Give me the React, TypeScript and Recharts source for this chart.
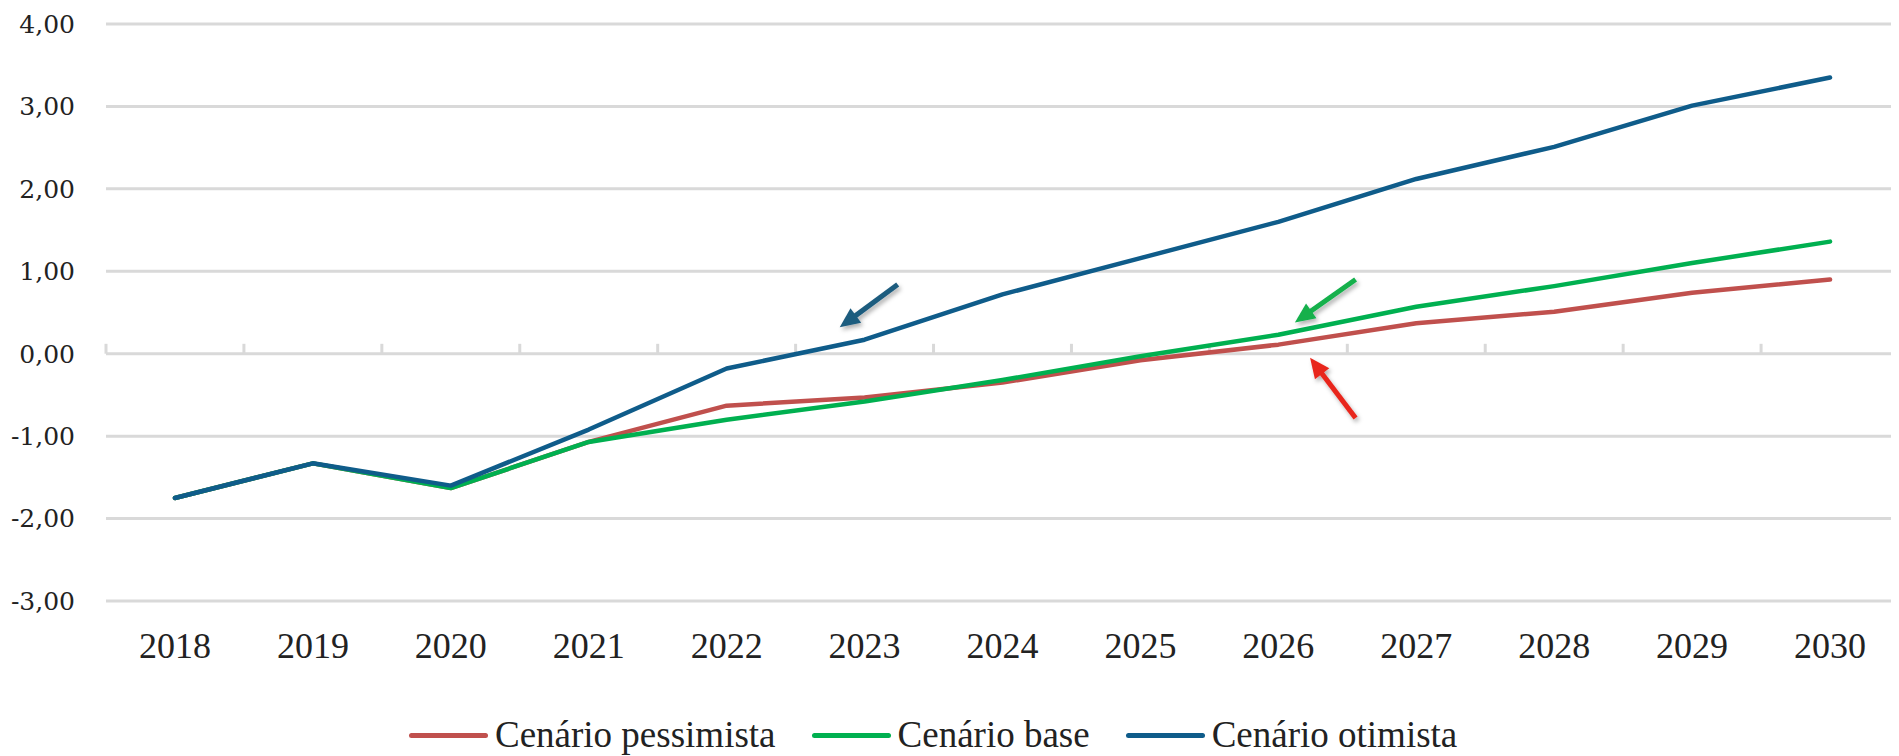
import {
  CartesianGrid,
  Legend,
  Line,
  LineChart,
  ReferenceLine,
  XAxis,
  YAxis,
} from "recharts";

const years = [2018, 2019, 2020, 2021, 2022, 2023, 2024, 2025, 2026, 2027, 2028, 2029, 2030];
const pessimista = [-1.75, -1.33, -1.63, -1.07, -0.63, -0.53, -0.35, -0.08, 0.11, 0.37, 0.51, 0.74, 0.9];
const base = [-1.75, -1.33, -1.63, -1.07, -0.8, -0.58, -0.32, -0.03, 0.23, 0.57, 0.82, 1.1, 1.36];
const otimista = [-1.75, -1.33, -1.6, -0.92, -0.18, 0.17, 0.72, 1.16, 1.6, 2.12, 2.51, 3.01, 3.35];
const yTicks = [-3, -2, -1, 0, 1, 2, 3, 4];

const series = [
  { key: "pessimista", name: "Cenário pessimista", color: "#C0504D" },
  { key: "base", name: "Cenário base", color: "#00B050" },
  { key: "otimista", name: "Cenário otimista", color: "#0F5C8A" },
];

// annotation arrows, tail -> tip, in data units
const arrows = [
  { from: [2023.24, 0.84], to: [2022.82, 0.32], color: "#1F5C7E" },
  { from: [2026.56, 0.9], to: [2026.12, 0.38], color: "#12B04C" },
  { from: [2026.56, -0.78], to: [2026.23, -0.05], color: "#E8261C" },
];

const data = years.map((year, i) => ({
  year,
  pessimista: pessimista[i],
  base: base[i],
  otimista: otimista[i],
}));

const boundaries = years.map((y) => y - 0.5);

const fmt = (v: number) => v.toFixed(2).replace(".", ",");

const ArrowShape = (props: any) => {
  const { x1, y1, x2, y2, color } = props;
  const dx = x2 - x1;
  const dy = y2 - y1;
  const len = Math.sqrt(dx * dx + dy * dy) || 1;
  const ux = dx / len;
  const uy = dy / len;
  const head = 20;
  const half = 9;
  const bx = x2 - ux * head;
  const by = y2 - uy * head;
  const pts = `${x2},${y2} ${bx - uy * half},${by + ux * half} ${bx + uy * half},${by - ux * half}`;
  return (
    <g filter="url(#arrowShadow)">
      <line x1={x1} y1={y1} x2={bx + ux * 2} y2={by + uy * 2} stroke={color} strokeWidth={5} />
      <polygon points={pts} fill={color} />
    </g>
  );
};

const LegendContent = () => (
  <div style={{ display: "flex", alignItems: "center", gap: 36 }}>
    {series.map((s) => (
      <div key={s.key} style={{ display: "flex", alignItems: "center", gap: 7 }}>
        <span
          style={{
            display: "inline-block",
            width: 79,
            height: 5,
            borderRadius: 3,
            background: s.color,
          }}
        />
        <span
          style={{
            fontFamily: "'Liberation Serif', serif",
            fontSize: 37,
            color: "#222",
            lineHeight: "36px",
          }}
        >
          {s.name}
        </span>
      </div>
    ))}
  </div>
);

export default function App() {
  return (
    <LineChart
      width={1891}
      height={748}
      data={data}
      margin={{ top: 16, right: 0, bottom: 95, left: 0 }}
    >
      <defs>
        <filter id="arrowShadow" x="-50%" y="-50%" width="200%" height="200%">
          <feDropShadow dx="2" dy="3" stdDeviation="2" floodColor="#000" floodOpacity="0.3" />
        </filter>
      </defs>
      <CartesianGrid vertical={false} stroke="#D9D9D9" strokeWidth={3} />
      <XAxis
        dataKey="year"
        type="number"
        domain={[2017.5, 2030.5]}
        ticks={years}
        interval={0}
        axisLine={false}
        tickLine={false}
        tickSize={0}
        tickMargin={31}
        height={60}
        tick={{ fontFamily: "'Liberation Serif', serif", fontSize: 36, fill: "#222" }}
      />
      <YAxis
        domain={[-3, 4]}
        ticks={yTicks}
        axisLine={false}
        tickLine={false}
        tickSize={0}
        tickMargin={31}
        width={98}
        tickFormatter={fmt}
        tick={{ fontFamily: "'DejaVu Serif', serif", fontSize: 25, fill: "#222" }}
      />
      {boundaries.map((b) => (
        <ReferenceLine
          key={b}
          segment={[
            { x: b, y: 0 },
            { x: b, y: 0.12 },
          ]}
          stroke="#D9D9D9"
          strokeWidth={3}
        />
      ))}
      {series.map((s) => (
        <Line
          key={s.key}
          dataKey={s.key}
          name={s.name}
          type="linear"
          stroke={s.color}
          strokeWidth={4.5}
          strokeLinecap="round"
          strokeLinejoin="round"
          dot={false}
          activeDot={false}
          isAnimationActive={false}
        />
      ))}
      {arrows.map((a, i) => (
        <ReferenceLine
          key={i}
          segment={[
            { x: a.from[0], y: a.from[1] },
            { x: a.to[0], y: a.to[1] },
          ]}
          ifOverflow="visible"
          shape={(p: any) => <ArrowShape {...p} color={a.color} />}
        />
      ))}
      <Legend
        layout="horizontal"
        verticalAlign="middle"
        align="center"
        content={<LegendContent />}
        wrapperStyle={{ top: 709, left: 401, width: "auto" }}
      />
    </LineChart>
  );
}
